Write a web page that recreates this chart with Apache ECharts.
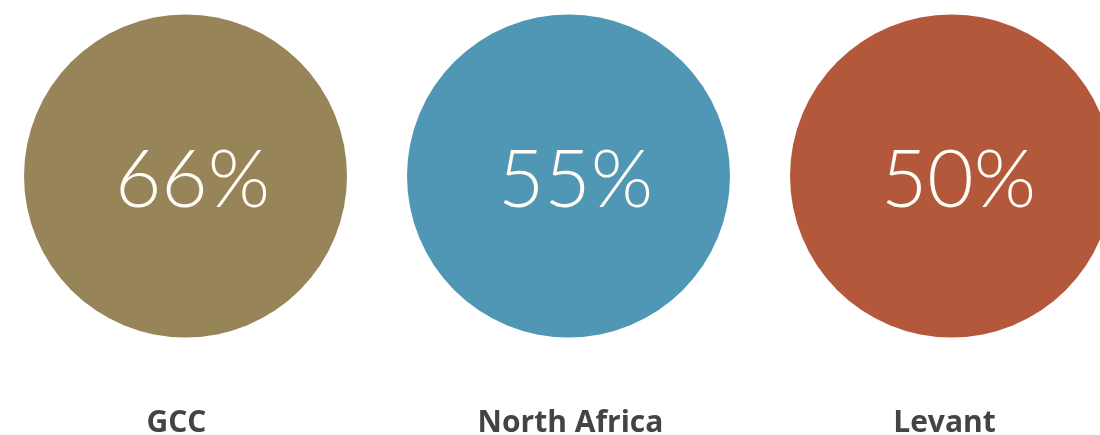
<!DOCTYPE html>
<html lang="en">
<head>
    <meta charset="UTF-8">
    <title>Regions</title>
    <style>
        html, body { margin: 0; padding: 0; background: #fff; }
    </style>
</head>
<body>
    <div id="chart" style="width:1100px; height:435px"></div>

    <script src="https://cdn.jsdelivr.net/npm/echarts@6/dist/echarts.min.js"></script>
    <script>
        // data
        const regions = ['GCC', 'North Africa', 'Levant'];
        const shares = [66, 55, 50];

        // circle colours, one per region
        const colors = ['#978559', '#5096b5', '#b3583a'];
        // small nudges of the region names (the source isn't perfectly centred)
        const labelPads = [[0, 18, 0, 0], [0, 0, 0, 4], [0, 14, 0, 0]];

        const chart = echarts.init(document.querySelector('#chart'));

        chart.setOption({
            animation: false,
            grid: {
                left: -6,
                width: 1149,
                top: 0,
                height: 352,
                outerBoundsMode: 'none',
                containLabel: false
            },
            xAxis: {
                type: 'category',
                data: regions.map((r, i) => ({
                    value: r,
                    textStyle: { padding: labelPads[i] }
                })),
                axisLine: { show: false },
                axisTick: { show: false },
                axisLabel: {
                    margin: 56,
                    color: '#444',
                    fontFamily: 'Open Sans',
                    fontWeight: 'bold',
                    fontSize: 30
                }
            },
            yAxis: {
                type: 'value',
                min: -1,
                max: 1,
                show: false
            },
            series: [{
                type: 'scatter',
                symbol: 'circle',
                symbolSize: 323,
                data: shares.map((v, i) => ({
                    value: [i, 0],
                    share: v,
                    itemStyle: { color: colors[i], opacity: 1 }
                })),
                label: {
                    show: true,
                    position: 'inside',
                    offset: [7, 5],
                    formatter: (p) => p.data.share + '%',
                    color: '#fffdf5',
                    fontFamily: 'Lato',
                    fontWeight: 300,
                    fontSize: 80
                },
                silent: true
            }]
        });
    </script>
</body>
</html>
